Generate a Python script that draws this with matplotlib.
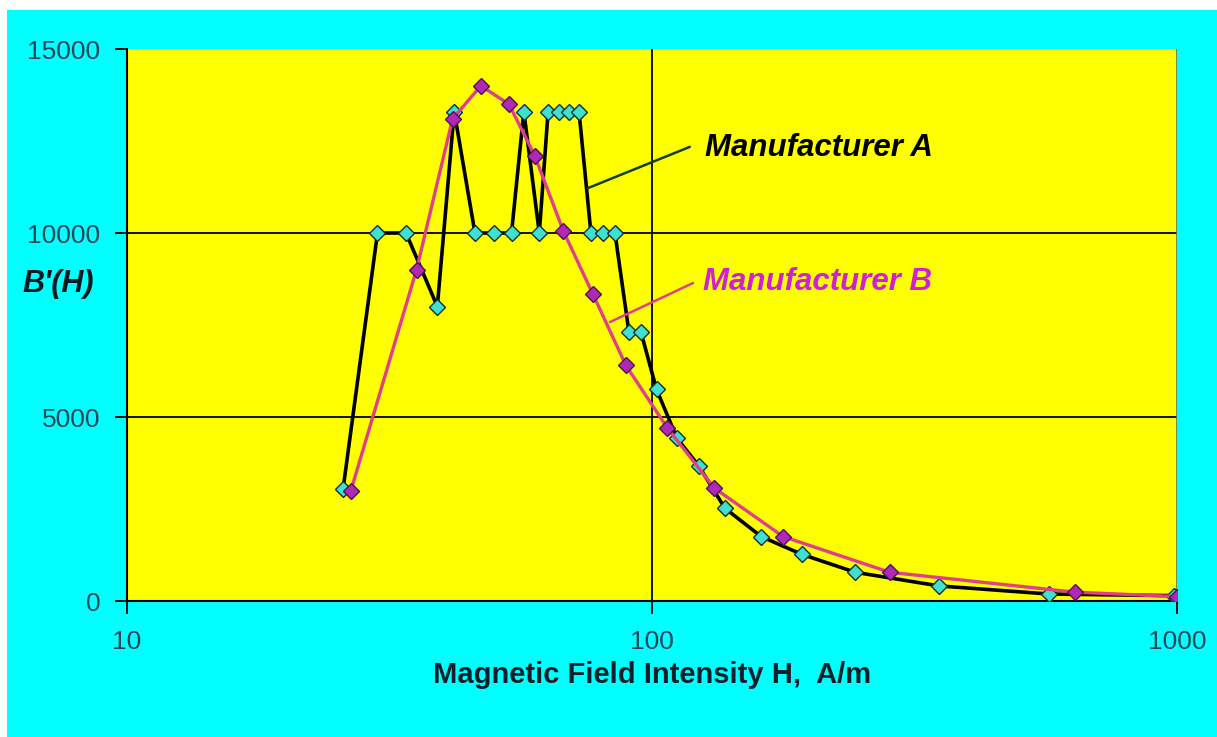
import matplotlib
matplotlib.use("Agg")
import matplotlib.pyplot as plt
from matplotlib.patches import Rectangle

plt.rcParams['font.family'] = ['Liberation Sans', 'DejaVu Sans']

# Manufacturer A (cyan diamonds, black line)
h_a = [25.8, 30, 34, 39, 42, 46, 50, 54, 57, 61, 63.4, 66.5, 69.5, 72.6,
       76.5, 80.7, 85, 90.4, 95.3, 102, 111.6, 122.8, 137.7, 161.5, 192.7,
       244, 352, 570, 985]
b_a = [3050, 10000, 10000, 8000, 13300, 10000, 10000, 10000, 13300, 10000,
       13300, 13300, 13300, 13300, 10000, 10000, 10000, 7300, 7300, 5750,
       4420, 3670, 2520, 1750, 1270, 780, 410, 190, 145]

# Manufacturer B (magenta diamonds, pink line)
h_b = [26.7, 35.6, 41.7, 47.2, 53.4, 59.8, 67.8, 77.1, 89.2, 107, 131.4,
       177.8, 283.6, 639, 1000]
b_b = [3000, 9000, 13100, 14000, 13500, 12100, 10050, 8350, 6400, 4700,
       3070, 1750, 780, 240, 120]

y_ticks = [0, 5000, 10000, 15000]
x_ticks = [10, 100, 1000]

tick_col = '#204a5a'

fig = plt.figure(figsize=(12.17, 7.37), dpi=100, facecolor='white')
fig.patches.append(Rectangle((7 / 1217, 0), 1 - 7 / 1217, 1 - 10 / 737,
                             transform=fig.transFigure, facecolor='#00ffff',
                             edgecolor='none', zorder=-10))

ax = fig.add_axes([0.10436, 0.18453, 0.86277, 0.74898])
ax.set_facecolor('#ffff00')
ax.set_xscale('log')
ax.set_xlim(10, 1000)
ax.set_ylim(0, 15000)

# grid
for v in [5000, 10000]:
    ax.axhline(v, color='black', lw=1.3, zorder=1)
ax.axvline(100, color='black', lw=1.3, zorder=1)
ax.axvline(1000, color='#557755', lw=1.2, zorder=1)

ax.plot(h_a, b_a, color='black', lw=2.6, zorder=3,
        marker='D', ms=8, mfc='#40e0d0', mec='#103030', mew=1.0)
ax.plot(h_b, b_b, color='#e0408a', lw=2.4, zorder=4,
        marker='D', ms=8, mfc='#b028b8', mec='#501050', mew=1.0)

for s in ['top', 'right']:
    ax.spines[s].set_visible(False)
ax.spines['left'].set_linewidth(1.5)
ax.spines['bottom'].set_linewidth(1.5)

ax.set_yticks(y_ticks)
ax.set_yticklabels([str(v) for v in y_ticks])
ax.set_xticks(x_ticks)
ax.set_xticklabels([str(v) for v in x_ticks])
ax.xaxis.set_minor_locator(matplotlib.ticker.NullLocator())
ax.tick_params(axis='y', length=9, width=1.3, pad=10, labelsize=19, labelcolor=tick_col)
ax.tick_params(axis='x', length=9, width=1.3, pad=12, labelsize=19, labelcolor=tick_col)

ax.set_xlabel('Magnetic Field Intensity H,  A/m', fontsize=21, fontweight='bold',
              color='#10202a', labelpad=5)

fig.text(22 / 1217, 1 - 284 / 737, "B'(H)", fontsize=22, fontweight='bold',
         fontstyle='italic', color='#0a1a20', va='center', ha='left')

# leader lines and series labels
ax.annotate('', xy=(75.5, 11220), xytext=(118, 12340),
            arrowprops=dict(arrowstyle='-', color='#104020', lw=1.8,
                            shrinkA=0, shrinkB=0))
ax.text(126, 12310, 'Manufacturer A', fontsize=22.5, fontweight='bold',
        fontstyle='italic', color='black', va='center', ha='left')
ax.annotate('', xy=(83.2, 7580), xytext=(119.7, 8640),
            arrowprops=dict(arrowstyle='-', color='#e0408a', lw=1.8,
                            shrinkA=0, shrinkB=0))
ax.text(125, 8670, 'Manufacturer B', fontsize=22.5, fontweight='bold',
        fontstyle='italic', color='#d020d0', va='center', ha='left')

fig.savefig('out.png', dpi=100, facecolor=fig.get_facecolor())
